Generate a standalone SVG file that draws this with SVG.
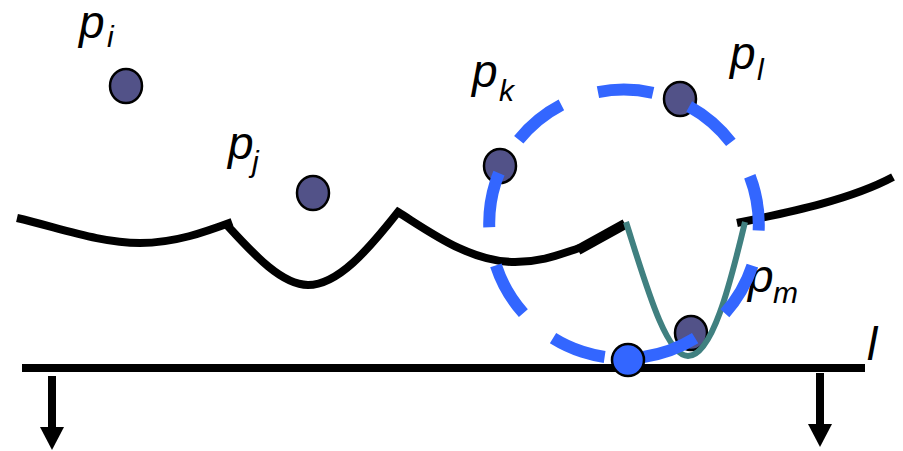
<svg xmlns="http://www.w3.org/2000/svg" width="903" height="451" viewBox="0 0 903 451">
<style>
.crv{fill:none;stroke:#000;stroke-width:8;stroke-linejoin:miter}
.teal{fill:none;stroke:#408080;stroke-width:6}
.pt{fill:#525288;stroke:#000;stroke-width:2.5}
.lbl{font-family:"Liberation Sans",Arial,sans-serif;font-style:italic;font-size:46px;fill:#000}
.sub{font-size:30px}
.circ{fill:none;stroke:#3366FF;stroke-width:12;stroke-dasharray:55.4 38.85}
</style>
<rect width="903" height="451" fill="#fff"/>
<g id="connectors">
<path class="crv" d="M17 218 C60 228,100 243,140 243 C175 243,205 232,232 222"/>
<path class="crv" d="M225 223 C250 250,280 285,308 285 C338 285,368 250,398 212 C430 232,470 262,515 262 C545 262,565 252,580 248"/>
<path class="crv" style="stroke-width:10" d="M578 250 L625 224"/>
<path class="crv" d="M737 223 C790 212,850 200,893 177"/>
<line id="line-l" x1="22" y1="368" x2="865" y2="368" stroke="#000" stroke-width="8"/>
<g id="arrows">
<line x1="52" y1="376" x2="52" y2="430" stroke="#000" stroke-width="8"/>
<polygon points="40,427 64,427 52,450"/>
<line x1="820" y1="373" x2="820" y2="427" stroke="#000" stroke-width="8"/>
<polygon points="808,424 832,424 820,447"/>
</g>
</g>
<g id="pi"><ellipse class="pt" cx="126" cy="86" rx="16" ry="17"/><text class="lbl" x="79" y="38">p<tspan class="sub" x="107" y="47">i</tspan></text></g>
<g id="pj"><ellipse class="pt" cx="313" cy="193" rx="16" ry="17"/><text class="lbl" x="228" y="159">p<tspan class="sub" x="252" y="172">j</tspan></text></g>
<g id="pk"><ellipse class="pt" cx="500" cy="166" rx="16" ry="17"/><text class="lbl" x="472" y="87">p<tspan class="sub" x="499" y="101">k</tspan></text></g>
<g id="pl"><ellipse class="pt" cx="680" cy="99" rx="16" ry="17"/><text class="lbl" x="730" y="69">p<tspan class="sub" x="757" y="80">l</tspan></text></g>
<g id="pm"><ellipse class="pt" cx="691" cy="333" rx="16" ry="17"/><text class="lbl" x="748" y="292">p<tspan class="sub" x="773" y="303">m</tspan></text></g>
<path id="teal-curve" class="teal" d="M626 222 C646 285,666 356,688 356 C712 356,730 285,745 222"/>
<path id="circle" class="circ" d="M752.39 265.72 A135 135 0 0 1 495.61 182.28 A135 135 0 0 1 752.39 265.72"/>
<g id="touch"><circle cx="628" cy="360" r="16" fill="#3366FF" stroke="#000" stroke-width="2.5"/></g>
<text id="label-l" class="lbl" x="867" y="360">l</text>
</svg>
